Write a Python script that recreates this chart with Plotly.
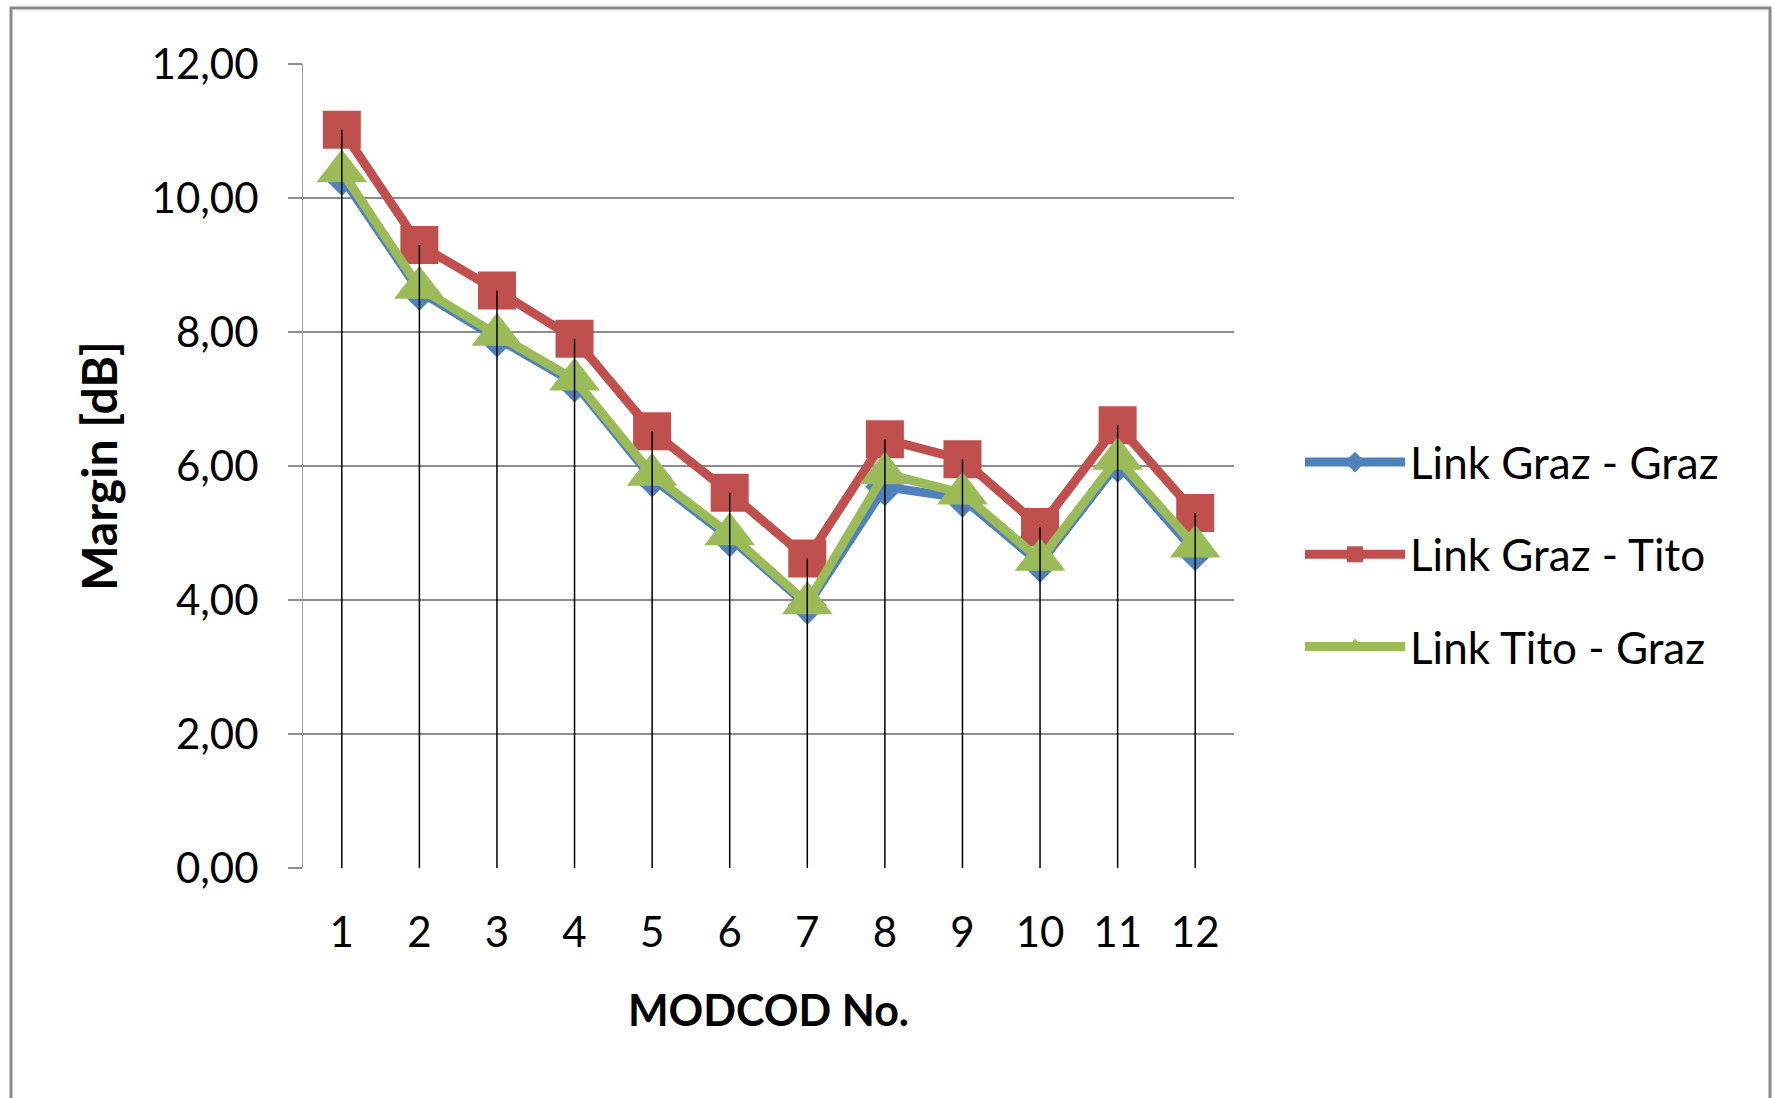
import plotly.graph_objects as go

# MODCOD numbers on the x axis
modcod = [1, 2, 3, 4, 5, 6, 7, 8, 9, 10, 11, 12]

# Link margins in dB per MODCOD
graz_graz = [10.32, 8.61, 7.91, 7.24, 5.82, 4.93, 3.92, 5.69, 5.52, 4.55, 6.04, 4.72]
graz_tito = [11.02, 9.30, 8.62, 7.90, 6.52, 5.60, 4.62, 6.40, 6.10, 5.09, 6.61, 5.30]
tito_graz = [10.40, 8.66, 7.96, 7.29, 5.87, 4.98, 3.95, 5.89, 5.59, 4.60, 6.11, 4.80]

series_names = ["Link Graz - Graz", "Link Graz - Tito", "Link Tito - Graz"]
y_ticks = [0, 2, 4, 6, 8, 10, 12]

FONT = "Lato, Calibri, sans-serif"
W, H = 1775, 1098
L, R, T, B = 303, 541, 64, 230

fig = go.Figure()

styles = [
    ("#4F81BD", "diamond", 30),
    ("#C0504D", "square", 38),
    ("#9BBB59", "triangle-up", 44),
]
for i, (vals, name, (col, sym, sz)) in enumerate(
        zip([graz_graz, graz_tito, tito_graz], series_names, styles)):
    fig.add_trace(go.Scatter(
        x=modcod, y=vals, name=name, mode="lines+markers",
        line=dict(color=col, width=9),
        marker=dict(color=col, symbol=sym, size=sz, line=dict(width=0)),
        legendgroup=f"g{i}",
    ))

# drop lines from the highest series value down to the axis
dx, dy = [], []
for k, x in enumerate(modcod):
    top = max(graz_graz[k], graz_tito[k], tito_graz[k])
    dx += [x, x, None]
    dy += [0, top, None]
fig.add_trace(go.Scatter(x=dx, y=dy, mode="lines", showlegend=False,
                         line=dict(color="black", width=1.5), hoverinfo="skip"))

pw, ph = W - L - R, H - T - B
def px_to_paper(x, y):
    return (x - L) / pw, (H - B - y) / ph

fx0, fy0 = px_to_paper(11, 8)
fx1, fy1 = px_to_paper(1770, 1110)
fig.add_shape(type="rect", xref="paper", yref="paper",
              x0=fx0, y0=fy1, x1=fx1, y1=fy0,
              line=dict(color="#8a8a8a", width=3), layer="below")

fig.update_layout(
    width=W, height=H,
    margin=dict(l=L, r=R, t=T, b=B, pad=0),
    paper_bgcolor="white", plot_bgcolor="white",
    separators=",.",
    font=dict(family=FONT, size=42, color="#000000"),
    showlegend=True,
    legend=dict(
        x=px_to_paper(1300, 0)[0], y=px_to_paper(0, 427)[1],
        xanchor="left", yanchor="top",
        font=dict(family=FONT, size=44),
        itemwidth=100, tracegroupgap=32,
        bgcolor="rgba(0,0,0,0)",
    ),
    xaxis=dict(
        range=[0.5, 12.5], tickvals=modcod, ticktext=[str(m) for m in modcod],
        showgrid=False, zeroline=False, showline=False, ticks="",
        ticklabelstandoff=36,
        title=dict(text="<b>MODCOD No.</b>", font=dict(family=FONT, size=43), standoff=40),
        fixedrange=True,
    ),
    yaxis=dict(
        range=[0, 12], tickvals=y_ticks, tickformat=".2f",
        showgrid=True, gridcolor="#8c8c8c", gridwidth=2,
        zeroline=False, showline=True, linecolor="#a0a0a0", linewidth=1,
        ticks="outside", ticklen=14, tickcolor="#8c8c8c", tickwidth=2,
        ticklabelstandoff=21,
        title=dict(text="<b>Margin [dB]</b>", font=dict(family=FONT, size=48), standoff=18),
        fixedrange=True,
    ),
)

fig.write_html("out.html")
